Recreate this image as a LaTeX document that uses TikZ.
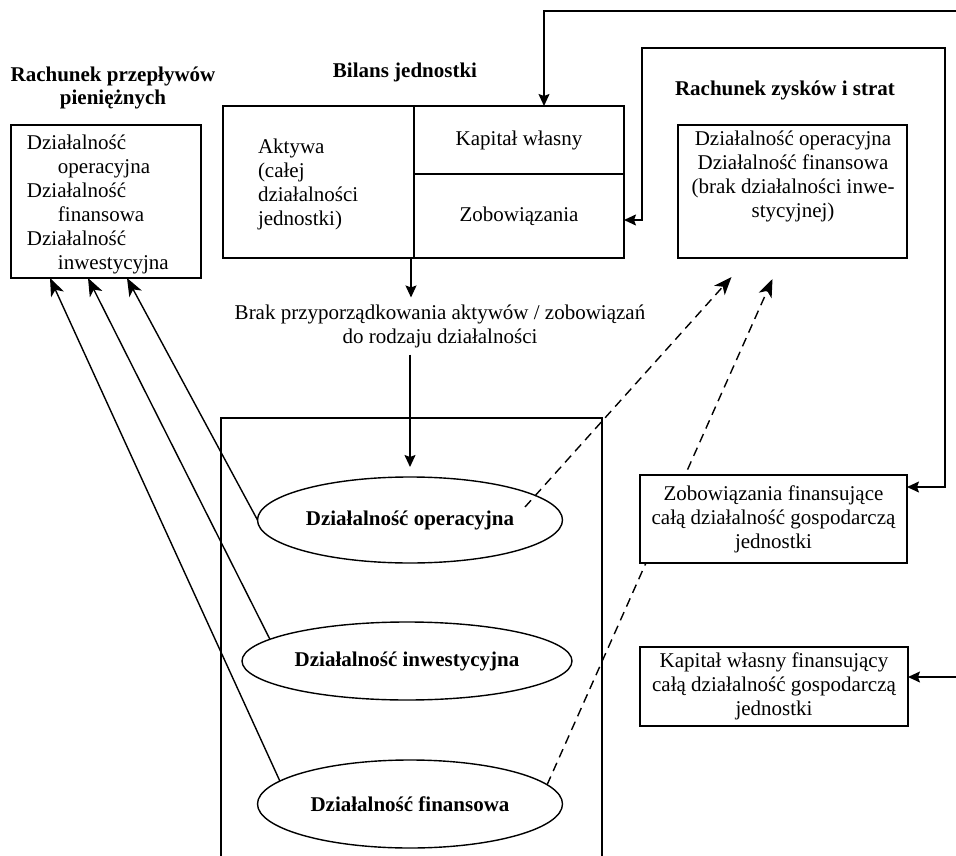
\documentclass[tikz,border=0pt]{standalone}
\usepackage{fontspec}
\setmainfont{Liberation Serif}
\usetikzlibrary{arrows.meta,shapes.geometric}
\begin{document}
\begin{tikzpicture}[x=1pt,y=-1pt,line width=1.4pt,
  every node/.style={font=\fontsize{21}{24}\selectfont, inner sep=0pt, outer sep=0pt},
  box/.style={draw, fill=white},
  ttl/.style={font=\fontsize{21}{23}\selectfont\bfseries, align=center},
  txt/.style={align=center},
  oval/.style={draw, ellipse, font=\fontsize{21}{24}\selectfont\bfseries},
  arr/.style={-{Stealth[length=12pt,width=11pt,inset=2pt]}},
  arrb/.style={{Stealth[length=12pt,width=11pt,inset=2pt]}-{Stealth[length=12pt,width=11pt,inset=2pt]}},
  arrl/.style={-{Stealth[length=18pt,width=14pt,inset=5pt]}},
  dsh/.style={arrl, dash pattern=on 9pt off 6pt}]
\useasboundingbox (0,0) rectangle (956,856);

% frame around the three activities
\node[draw, minimum width=381pt, minimum height=450pt, anchor=north] (area) at (411.5,418) {};

% titles
\node[ttl] (cft) at (113,88) {Rachunek przepływów\\pieniężnych};
\node[ttl] (bt) at (405,72) {Bilans jednostki};
\node[ttl] (rt) at (785,90) {Rachunek zysków i strat};

% cash flow statement
\node[box, minimum width=190pt, minimum height=153pt] (cf) at (106,201.5) {};
\node[align=left, anchor=west] (cftx) at (27,204) {Działalność\\\hspace*{31pt}operacyjna\\Działalność\\\hspace*{31pt}finansowa\\Działalność\\\hspace*{31pt}inwestycyjna};

% balance sheet
\node[box, minimum width=191pt, minimum height=152pt] (akt) at (318.5,182) {};
\node[align=left, anchor=west] (akttx) at (258,184) {Aktywa\\(całej\\działalności\\jednostki)};
\node[box, minimum width=210pt, minimum height=68pt] (kap) at (519,140) {Kapitał własny};
\node[box, minimum width=210pt, minimum height=84pt] (zob) at (519,216) {Zobowiązania};

% income statement
\node[box, minimum width=229pt, minimum height=133pt] (rz) at (792.5,191.5) {};
\node[txt] (rztx) at (793,176) {Działalność operacyjna\\Działalność finansowa\\(brak działalności inwe-\\stycyjnej)};

% middle label
\node[txt, inner ysep=7pt] (lab) at (440,326) {Brak przyporządkowania aktywów / zobowiązań\\do rodzaju działalności};

% activities
\node[oval, minimum width=305pt, minimum height=86pt] (op) at (410,520) {Działalność operacyjna};
\node[oval, minimum width=330pt, minimum height=78pt] (inw) at (407,661) {Działalność inwestycyjna};
\node[oval, minimum width=305pt, minimum height=88pt] (fin) at (410,804) {Działalność finansowa};

% dashed links to the income statement
\draw[dsh] ([xshift=115pt,yshift=13pt]op.center) -- ([xshift=-61pt,yshift=-19pt]rz.south);
\draw[dsh] (fin.8) -- ([xshift=-20pt,yshift=-21pt]rz.south);

% financing boxes
\node[box, align=center, minimum width=267pt, minimum height=88pt] (zf) at (773.5,519) {Zobowiązania finansujące\\całą działalność gospodarczą\\jednostki};
\node[box, align=center, minimum width=268pt, minimum height=79pt] (kf) at (774,686.5) {Kapitał własny finansujący\\całą działalność gospodarczą\\jednostki};

% vertical flow
\coordinate (a1) at ([xshift=-3pt]akt.south east);
\draw[arr] (a1) -- (a1 |- lab.north);
\draw[arr] (lab.south -| op.north) -- ([yshift=10pt]op.north);

% arrows to cash flow statement
\draw[arrl] (op.west) -- ([xshift=21pt]cf.south);
\draw[arrl] (inw.171) -- ([xshift=-18pt]cf.south);
\draw[arrl] (fin.170) -- ([xshift=-56pt]cf.south);

% feedback lines
\coordinate (k1) at (544,11);
\coordinate (k2) at (958,11);
\draw[arrb] ([xshift=25pt]kap.north) -- (k1) -- (k2) |- ([yshift=9.5pt]kf.east);
\coordinate (z1) at (642,48);
\coordinate (z2) at (945,48);
\draw[arrb] ([yshift=-4pt]zob.east) -| (z1) -- (z2) |- ([yshift=-12pt]zf.north east);
\end{tikzpicture}
\end{document}
